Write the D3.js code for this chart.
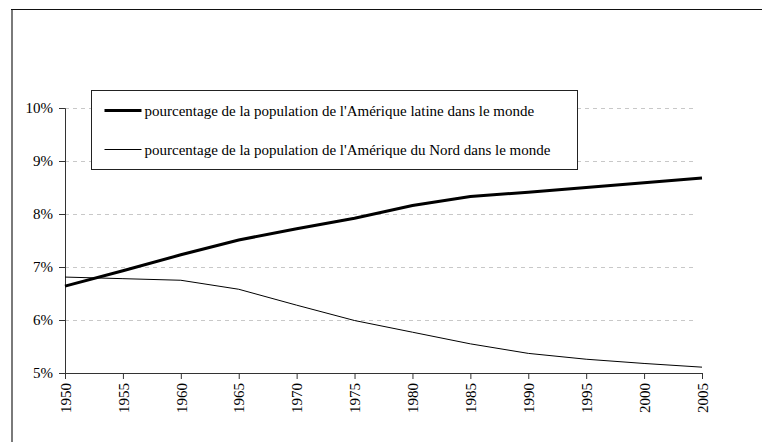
<!DOCTYPE html>
<html>
<head>
<meta charset="utf-8">
<script src="https://cdn.jsdelivr.net/npm/d3@7"></script>
<style>
  body { margin: 0; background: #fff; }
</style>
</head>
<body>
<svg id="chart" width="762" height="442"></svg>
<script>
// Data
let years = [1950, 1955, 1960, 1965, 1970, 1975, 1980, 1985, 1990, 1995, 2000, 2005];
let latinAmerica = [6.64, 6.93, 7.23, 7.51, 7.72, 7.92, 8.16, 8.33, 8.41, 8.50, 8.59, 8.68];
let northAmerica = [6.81, 6.78, 6.75, 6.58, 6.28, 5.99, 5.77, 5.55, 5.37, 5.26, 5.18, 5.11];
let yTicks = [5, 6, 7, 8, 9, 10];
let seriesNames = [
  "pourcentage de la population de l'Amérique latine dans le monde",
  "pourcentage de la population de l'Amérique du Nord dans le monde"
];

let serif = "'Liberation Serif', Tinos, 'Times New Roman', Times, serif";

// Plot area
let margin = { top: 108, left: 65, right: 60, bottom: 69 },
    width = 762 - margin.left - margin.right,
    height = 442 - margin.top - margin.bottom;

let svg = d3.select("#chart");

// outer frame (only left and top edges show)
svg.append("line")
  .attr("x1", 12).attr("x2", 12).attr("y1", 9).attr("y2", 442)
  .attr("stroke", "#7a7a7a").attr("stroke-width", 2);
svg.append("line")
  .attr("x1", 11).attr("x2", 762).attr("y1", 9.5).attr("y2", 9.5)
  .attr("stroke", "#111").attr("stroke-width", 1);

let g = svg.append("g")
  .attr("transform", "translate(" + margin.left + "," + margin.top + ")");

let x = d3.scaleLinear().domain([1950, 2005]).range([0, width]);
let y = d3.scaleLinear().domain([5, 10]).range([height, 0]);

// dashed grid lines
g.selectAll(".grid")
  .data(yTicks.filter(d => d > 5))
  .enter().append("line")
  .attr("class", "grid")
  .attr("x1", 0).attr("x2", width - 5)
  .attr("y1", d => Math.round(y(d)) + 0.5).attr("y2", d => Math.round(y(d)) + 0.5)
  .attr("stroke", "#c8c8c8")
  .attr("stroke-dasharray", "4,4");

// y axis
let yAxis = g.append("g")
  .call(d3.axisLeft(y).tickValues(yTicks).tickSize(6).tickFormat(d => d + "%"));
yAxis.attr("font-family", serif).attr("font-size", 15);
yAxis.selectAll("text").attr("x", -12).attr("fill", "#000");

// x axis
let xAxis = g.append("g")
  .attr("transform", "translate(0," + height + ")")
  .call(d3.axisBottom(x).tickValues(years).tickSize(6).tickFormat(d3.format("d")));
xAxis.attr("font-family", serif).attr("font-size", 15);
xAxis.selectAll("text")
  .attr("fill", "#000")
  .attr("transform", "rotate(-90)")
  .attr("text-anchor", "end")
  .attr("x", -10)
  .attr("y", 0)
  .attr("dy", "0.35em");

svg.selectAll(".domain, .tick line").attr("stroke", "#333");

// lines
let line = d3.line()
  .x((d, i) => x(years[i]))
  .y(d => y(d));

g.append("path")
  .datum(northAmerica)
  .attr("fill", "none")
  .attr("stroke", "#000")
  .attr("stroke-width", 1)
  .attr("d", line);

g.append("path")
  .datum(latinAmerica)
  .attr("fill", "none")
  .attr("stroke", "#000")
  .attr("stroke-width", 3)
  .attr("d", line);

// legend
let legend = svg.append("g").attr("transform", "translate(91.5,90.5)");
legend.append("rect")
  .attr("width", 486).attr("height", 79)
  .attr("fill", "#fff")
  .attr("stroke", "#222")
  .attr("stroke-width", 1);

let widths = [3, 1];
seriesNames.forEach(function(name, i) {
  let ly = 20 + i * 39;
  legend.append("line")
    .attr("x1", 13).attr("x2", 50)
    .attr("y1", ly).attr("y2", ly)
    .attr("stroke", "#000")
    .attr("stroke-width", widths[i]);
  legend.append("text")
    .attr("x", 53).attr("y", ly)
    .attr("dy", "0.35em")
    .attr("font-family", serif)
    .attr("font-size", 15)
    .text(name);
});
</script>
</body>
</html>
